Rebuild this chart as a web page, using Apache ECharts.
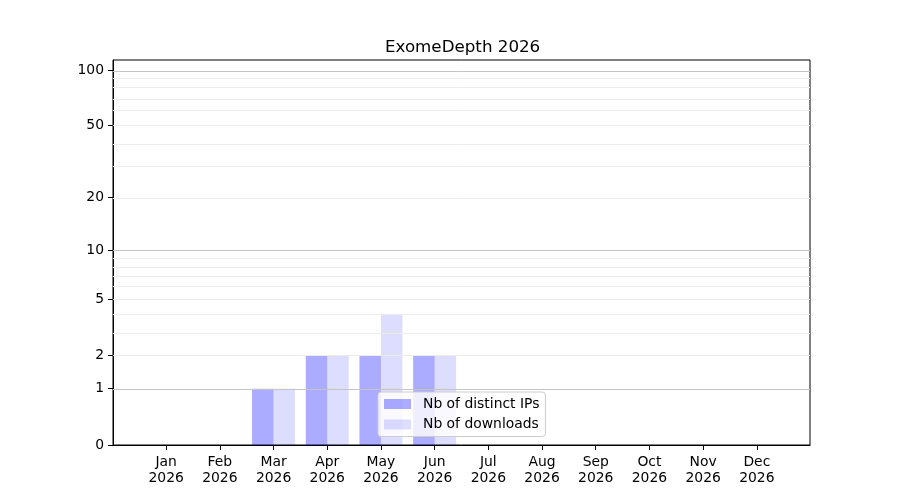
<!DOCTYPE html>
<html>
<head>
<meta charset="utf-8">
<script src="https://cdn.jsdelivr.net/npm/echarts@6/dist/echarts.min.js"></script>
<style>
    html, body { margin: 0; padding: 0; background: #fff; }
    #chart { width: 900px; height: 500px; }
</style>
</head>
<body>
<div id="chart"></div>
<script>
// 月份
const months = ['Jan', 'Feb', 'Mar', 'Apr', 'May', 'Jun', 'Jul', 'Aug', 'Sep', 'Oct', 'Nov', 'Dec'];
const year = '2026';
// 数据
const distinctIps = [0, 0, 1, 2, 2, 2, 0, 0, 0, 0, 0, 0];
const downloads = [0, 0, 1, 2, 4, 2, 0, 0, 0, 0, 0, 0];
// y 轴刻度
const yTicks = [0, 1, 2, 5, 10, 20, 50, 100];
const majorGrid = [1, 10, 100];
const minorGrid = [2, 3, 4, 5, 6, 7, 8, 9, 20, 30, 40, 50, 60, 70, 80, 90];

// log(1 + x) 变换
function tf(v) {
    return Math.log10(1 + v);
}

function initChart() {
    let chart = echarts.init(document.getElementById('chart'));
    const font = 'DejaVu Sans';
    const monthIdx = months.map((m, i) => i);

    // 网格线（主/次）
    let gridLines = majorGrid.map(v => ({yAxis: tf(v), lineStyle: {color: '#c4c4c4', width: 1, type: 'solid'}}))
        .concat(minorGrid.map(v => ({yAxis: tf(v), lineStyle: {color: '#ececec', width: 1, type: 'solid'}})));

    let option = {
        animation: false,
        title: {
            text: 'ExomeDepth ' + year,
            left: 385,
            top: 39,
            padding: 0,
            textStyle: {fontFamily: font, fontSize: 16.7, fontWeight: 'normal', color: '#000'}
        },
        legend: {
            data: ['Nb of distinct IPs', 'Nb of downloads'],
            orient: 'vertical',
            left: 378,
            top: 392,
            padding: [5, 6, 5, 6],
            itemWidth: 27,
            itemHeight: 10,
            itemGap: 6.5,
            borderColor: '#cccccc',
            borderWidth: 1,
            borderRadius: 3,
            backgroundColor: 'rgba(255,255,255,0.8)',
            icon: 'rect',
            textStyle: {fontFamily: font, fontSize: 13.9, color: '#000', padding: [0, 0, 0, 7]}
        },
        grid: {
            left: 113,
            right: 90,
            top: 60,
            bottom: 55,
            show: true,
            borderColor: '#000',
            borderWidth: 1,
            backgroundColor: 'transparent'
        },
        xAxis: {
            type: 'value',
            min: -0.99,
            max: 11.99,
            axisLine: {onZero: false, lineStyle: {color: '#000'}},
            axisTick: {show: true, customValues: monthIdx, length: 5, lineStyle: {color: '#000'}},
            axisLabel: {
                customValues: monthIdx,
                margin: 9,
                fontFamily: font,
                fontSize: 13.9,
                lineHeight: 16,
                color: '#000',
                formatter: v => months[Math.round(v)] + '\n' + year
            },
            splitLine: {show: false}
        },
        yAxis: {
            type: 'value',
            min: 0,
            max: 2.058,
            axisLine: {show: true, onZero: false, lineStyle: {color: '#000'}},
            axisTick: {show: true, customValues: yTicks.map(tf), length: 5, lineStyle: {color: '#000'}},
            axisLabel: {
                customValues: yTicks.map(tf),
                margin: 9,
                fontFamily: font,
                fontSize: 13.9,
                color: '#000',
                formatter: v => String(Math.round(Math.pow(10, v) - 1))
            },
            splitLine: {show: false}
        },
        series: [
            {
                // 网格线
                name: 'grid',
                type: 'line',
                data: [],
                z: 1,
                silent: true,
                markLine: {
                    silent: true,
                    symbol: 'none',
                    label: {show: false},
                    emphasis: {disabled: true},
                    data: gridLines
                }
            },
            {
                name: 'Nb of distinct IPs',
                type: 'bar',
                z: 2,
                barWidth: 21.5,
                barGap: '0%',
                itemStyle: {color: 'rgba(0,0,255,0.33)'},
                data: distinctIps.map((v, i) => [i, tf(v)])
            },
            {
                name: 'Nb of downloads',
                type: 'bar',
                z: 2,
                barWidth: 21.5,
                barGap: '0%',
                itemStyle: {color: 'rgba(0,0,255,0.134)'},
                data: downloads.map((v, i) => [i, tf(v)])
            }
        ]
    };

    chart.setOption(option);
}

initChart();
</script>
</body>
</html>
